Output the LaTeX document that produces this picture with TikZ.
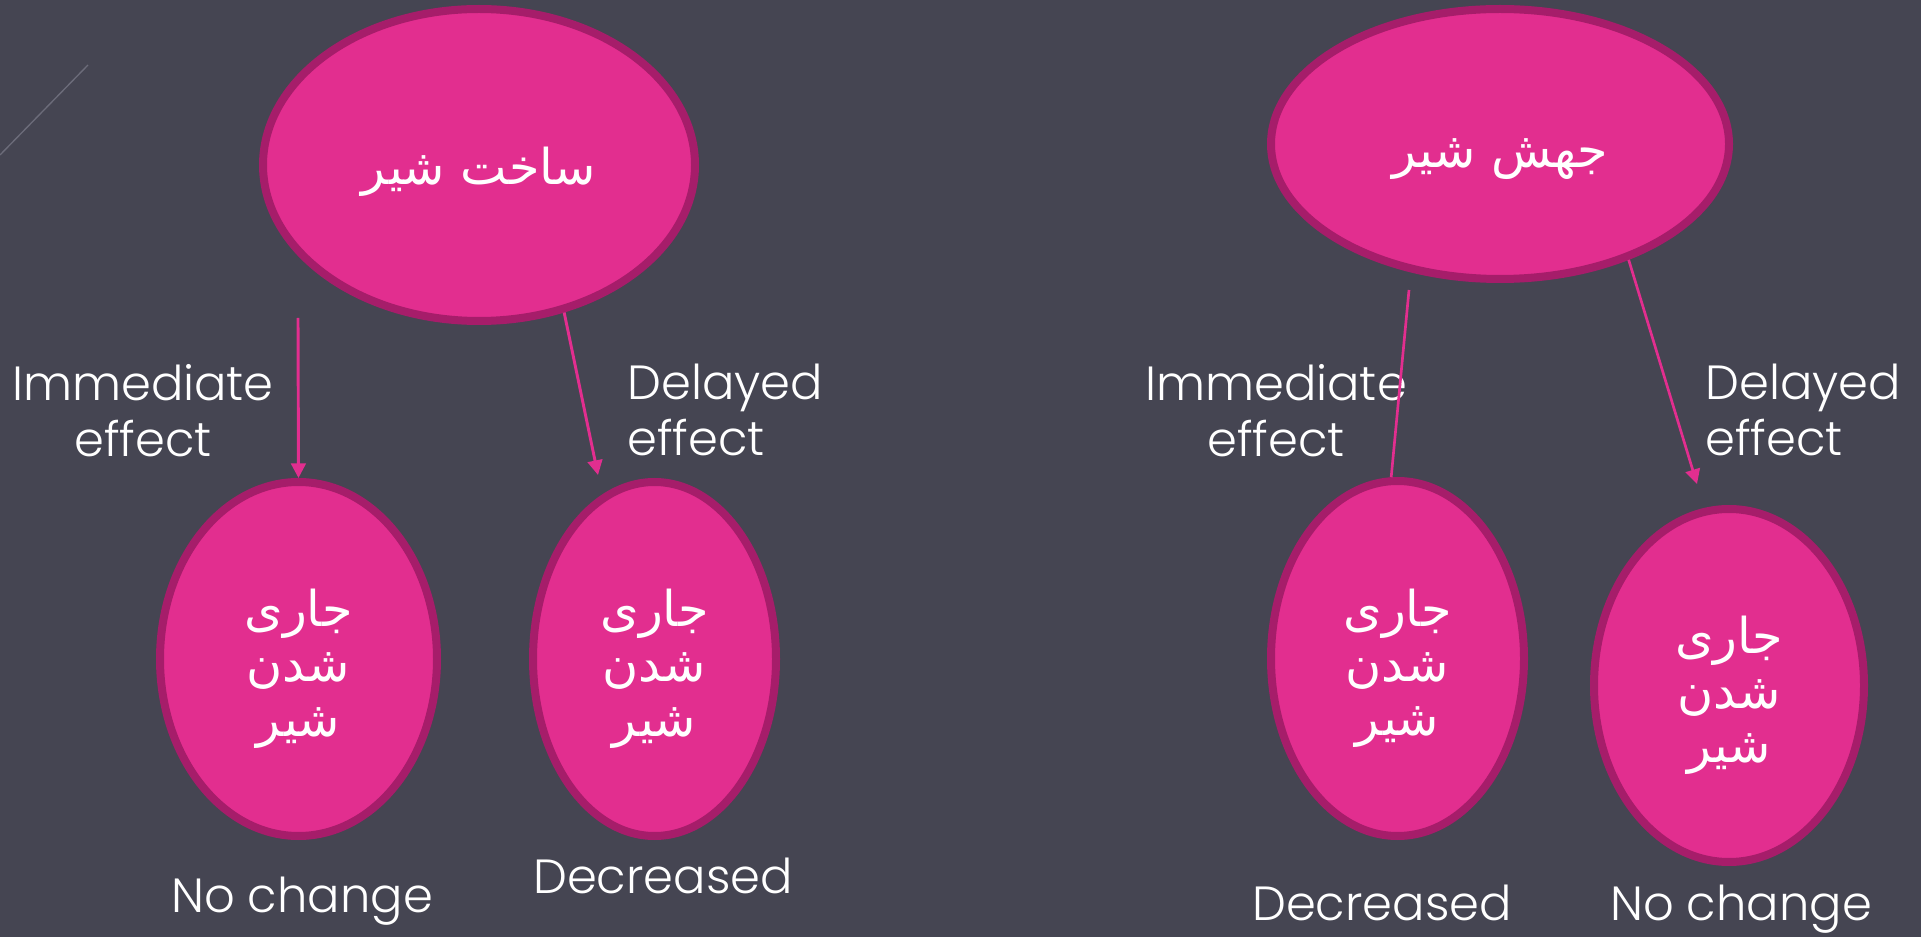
\documentclass[tikz,border=0pt]{standalone}
\usepackage{fontspec}
\setmainfont{Poppins}[UprightFont=* Light]
\newfontfamily\farsi[Script=Arabic]{DejaVu Sans}
\TeXXeTstate=1
\usetikzlibrary{shapes.geometric,arrows.meta}
\definecolor{slate}{HTML}{454552}
\definecolor{petal}{HTML}{E22E8F}
\definecolor{rim}{HTML}{A61D6A}
\definecolor{streak}{HTML}{6C6C7A}
\newcommand{\fa}[1]{{\farsi\beginR #1\endR}}
% milk flow, three lines, pushed a little down in its ellipse
\newcommand{\flow}{\rule{0pt}{43pt}\fa{جاری}\\\fa{شدن}\\\fa{شیر}}

\begin{document}
\begin{tikzpicture}[
x=0.75pt,y=-0.75pt,
>={Triangle[length=11pt,width=11pt]},
blob/.style={ellipse,draw=rim,fill=petal,line width=6pt,text=white,align=center,inner sep=0pt,font=\fontsize{37}{41}\selectfont},
tag/.style={text=white,inner sep=0pt,font=\fontsize{36}{42}\selectfont}
]
\fill[slate] (0,0) rectangle (1921,937);
\useasboundingbox (0,0) rectangle (1921,937);
\draw[streak,line width=1pt] (0,155) -- (88,65);

% left tree
\node[blob,minimum width=324pt,minimum height=234pt] (1) at (479,165) {\rule{0pt}{38pt}\fa{ساخت شیر}};
\node[blob,minimum width=207.75pt,minimum height=265.5pt] (2) at (298.5,659) {\flow};
\node[blob,minimum width=182.25pt,minimum height=265.5pt] (3) at (654.5,659) {\flow};

% right tree
\node[blob,minimum width=343.5pt,minimum height=202.5pt] (4) at (1500,144) {\rule{0pt}{45pt}\fa{جهش شیر}};
\node[blob,minimum width=189.75pt,minimum height=266.25pt] (5) at (1397.5,658.5) {\flow};
\node[blob,minimum width=202.5pt,minimum height=264.75pt] (6) at (1729,685.5) {\flow};

% effect labels
\node[tag,anchor=north,align=center] (i1) at (143,364) {Immediate\\effect};
\node[tag,anchor=north west,align=left] (d1) at (627,364) {Delayed\\effect};
\node[tag,anchor=north,align=center] (i2) at (1276,364) {Immediate\\effect};
\node[tag,anchor=north west,align=left] (d2) at (1705,364) {Delayed\\effect};

% outcomes
\node[tag,anchor=base] (o2) at (302,912) {No change};
\node[tag,anchor=base] (o3) at (663,893) {Decreased};
\node[tag,anchor=base] (o5) at (1382,920) {Decreased};
\node[tag,anchor=base] (o6) at (1741,920) {No change};

\coordinate (s2) at (298,318);
\coordinate (t3) at (598,475);
\coordinate (s5) at (1409,290);
\coordinate (t6) at (1697,484);
\draw[petal,line width=2.2pt,->] (s2) -- (2.north);
\draw[petal,line width=2.2pt,->] (1.-60) -- (t3);
\draw[petal,line width=2pt] (s5) -- (5.92);
\draw[petal,line width=2pt,->] (4.-42) -- (t6);
\end{tikzpicture}
\end{document}
